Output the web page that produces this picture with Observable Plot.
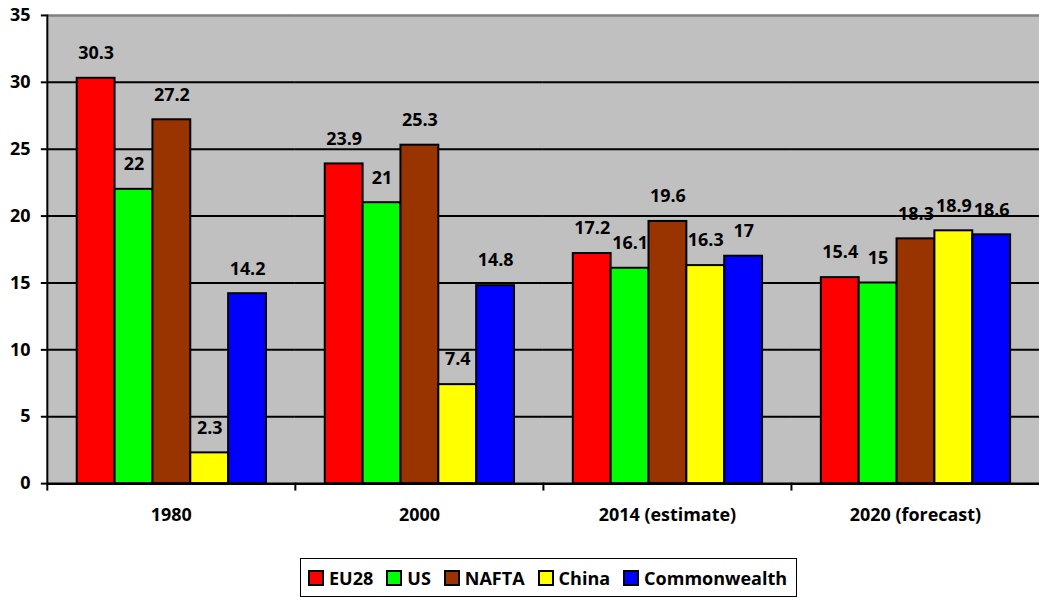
<!DOCTYPE html>
<html><head><meta charset="utf-8">
<script src="https://cdn.jsdelivr.net/npm/d3@7"></script>
<script src="https://cdn.jsdelivr.net/npm/@observablehq/plot@0.6"></script>
<style>
html,body{margin:0;padding:0;overflow:hidden;background:#fff;}
body{font-family:"Open Sans","Noto Sans",sans-serif;position:relative;width:1039px;height:598px;}
#chart{position:absolute;left:0;top:0;}
#legend{position:absolute;left:300px;top:558px;height:39px;box-sizing:border-box;border:1.5px solid #000;display:flex;align-items:center;padding:0 9px 0 7px;font-size:18px;font-weight:bold;color:#000;background:#fff;}
#legend .item{display:flex;align-items:center;margin-right:13px;}
#legend .item:last-child{margin-right:0;}
#legend .sw{width:12px;height:12px;border:2px solid #000;margin-right:5px;}
</style></head><body>
<div id="chart"></div>
<div id="legend"></div>
<script>
const categories = ["1980", "2000", "2014 (estimate)", "2020 (forecast)"];
const series = ["EU28", "US", "NAFTA", "China", "Commonwealth"];
const colors = ["#ff0000", "#00ff00", "#993300", "#ffff00", "#0000ff"];
const eu28 = [30.3, 23.9, 17.2, 15.4];
const us = [22, 21, 16.1, 15];
const nafta = [27.2, 25.3, 19.6, 18.3];
const china = [2.3, 7.4, 16.3, 18.9];
const commonwealth = [14.2, 14.8, 17, 18.6];
const yTicks = [0, 5, 10, 15, 20, 25, 30, 35];

const values = [eu28, us, nafta, china, commonwealth];
const data = [];
categories.forEach((c, ci) => {
  series.forEach((s, si) => {
    data.push({category: c, series: s, value: values[si][ci]});
  });
});

const font = "'Open Sans', 'Noto Sans', sans-serif";
const chart = Plot.plot({
  width: 1043,
  height: 548,
  marginLeft: 47,
  marginRight: 0,
  marginTop: 15,
  marginBottom: 63,
  style: {fontFamily: font, fontSize: "18px", fontWeight: "bold", color: "#000", background: "transparent", overflow: "visible"},
  fx: {domain: categories, padding: 0, label: null, axis: null},
  x: {domain: series, paddingInner: 0, paddingOuter: 0.76, axis: null},
  y: {domain: [0, 35], label: null, axis: null},
  color: {domain: series, range: colors},
  marks: [
    Plot.frame({fill: "#c0c0c0", stroke: "#c0c0c0", strokeWidth: 1}),
    Plot.gridY(yTicks.filter(d => d > 0 && d < 35), {stroke: "#000", strokeOpacity: 1, strokeWidth: 2}),
    Plot.ruleY([35], {stroke: "#808080", strokeWidth: 2.5}),
    Plot.barY(data, {fx: "category", x: "series", y: "value", fill: "series", stroke: "#000", strokeWidth: 2}),
    Plot.text(data, {fx: "category", x: "series", y: "value", text: d => String(d.value), dy: -25, fill: "#000", fontSize: 18, fontWeight: "bold"}),
    Plot.ruleY([0], {stroke: "#000", strokeWidth: 2.5}),
    Plot.frame({anchor: "left", stroke: "#000", strokeWidth: 2, facetAnchor: "left"}),
    Plot.frame({anchor: "left", stroke: "#000", strokeWidth: 2, insetTop: 470, insetBottom: -6}),
    Plot.axisY(yTicks, {anchor: "left", tickSize: 6, tickPadding: 11, tickFormat: d => String(d), stroke: "#000", strokeWidth: 2, fontSize: 18, fontWeight: "bold", label: null}),
    Plot.axisFx({anchor: "bottom", tickSize: 0, tickPadding: 25, fontSize: 18, fontWeight: "bold", label: null})
  ]
});
document.getElementById("chart").appendChild(chart);

const legend = document.getElementById("legend");
series.forEach((s, i) => {
  const item = document.createElement("div");
  item.className = "item";
  const sw = document.createElement("div");
  sw.className = "sw";
  sw.style.background = colors[i];
  const t = document.createElement("span");
  t.textContent = s;
  item.appendChild(sw);
  item.appendChild(t);
  legend.appendChild(item);
});
</script>
</body></html>
